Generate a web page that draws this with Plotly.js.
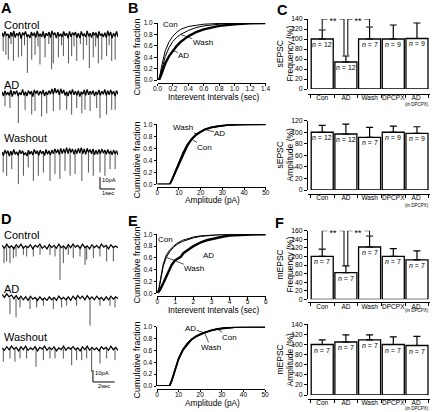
<!DOCTYPE html>
<html><head><meta charset="utf-8">
<script src="https://cdn.plot.ly/plotly-3.0.1.min.js"></script>
<style>html,body{margin:0;padding:0;background:#fff}#fig{width:432px;height:412px}</style>
</head><body><div id="fig"></div>
<script>
// ================= DATA =================
// Panel A: sEPSC traces — baseline noise (pA) and events (time s, amplitude pA)
const aCtrlNoise=[1.5,-2,2.5,-1,0.5,-3,2,-1.5,3,-2.5,1,-1,2,-3.5,1.5,-0.5,2.5,-2,0,-3,2,-1,1.5,-2.5,3,-1.5,0.5,-2,2.5,-3,1,-1,2,-2.5,3,-0.5,1.5,-3,2,-1.5,0.5,-2,2.5,-1,1,-3,2.5,-2,1.5,-0.5,2,-2.5,1,-3,2.5,-1,0.5,-2,3,-1.5,1,-2.5,2,-0.5,1.5,-3,2.5,-1,0.5,-2,1.5,-2.5,3,-1,2,-3,1,-1.5,2.5,-2];
const aCtrlEvtT=[0.08,0.26,0.42,0.6,0.76,1.09,1.31,1.5,1.69,1.98,2.2,2.4,2.53,2.87,3.12,3.31,3.42,3.76,3.96,4.09,4.43,4.64,4.8,4.98,5.22,5.42,5.64,5.82,6.08,6.24,6.42,6.65,6.97,7.14,7.31,7.54];
const aCtrlEvtAmp=[14,17,21,8,22,19,18,9,32,21,17,10,25,19,8,29,24,19,9,18,24,18,10,22,8,21,9,28,19,10,24,21,18,9,22,21];
const aADNoise=[1,-2.5,2,-1.5,0.5,-2,2.5,-3,1.5,-1,2,-2.5,0.5,-1.5,3,-2,1,-2.5,2,-1,1.5,-3,2.5,-0.5,2,-2,1.5,-1,2.5,-2.5,1,-1.5,2,-1,3.5,-1,4,0,3,-1.5,3.5,-0.5,2.5,-2,1,-2.5,2,-1,3,-1.5,1.5,-2,2,-3,1,-1,2.5,-2,3,-1.5,1.5,-1,2,-2.5,1,-1.5,2.5,-2,1.5,-1,3,-2,2,-1.5,2.5,-1,1.5,-2.5,2,-1];
const aADEvtT=[0.2,0.53,1.09,1.54,1.98,2.2,2.64,2.98,3.42,3.86,4.31,4.64,4.98,5.32,5.53,5.87,6.31,6.53,6.97,7.31,7.54];
const aADEvtAmp=[11,12.5,25,14,18,15,19.5,17,15,14,14,18,12.5,17,14,15,12.5,21,18,14,14];
const aWashNoise=[0.5,-2.5,2,-1,1.5,-3,1,-2,2.5,-1.5,0.5,-2.5,2,-1,1.5,-2,0,-3,2,-1.5,1,-2,2.5,-1,1.5,-2.5,2,-1,1,-2.5,2.5,-1.5,1.5,-2,2,-1,3,-0.5,2.5,-1.5,3.5,-1,3,-0.5,4,-1,3.5,0,3,-1.5,2.5,-1,3.5,-0.5,4,-1,3,-1.5,3.5,0,2.5,-1,3,-2,2,-1.5,2.5,-1,3,-0.5,2,-1.5,2.5,-1,1.5,-2,2,-1,1.5,-2];
const aWashEvtT=[0.08,0.31,0.65,1.09,1.43,1.75,2.09,2.42,2.76,3.2,3.53,3.86,4.2,4.54,4.87,5.32,5.76,6.08,6.53,6.86,7.2,7.54];
const aWashEvtAmp=[16.7,19.4,13.9,26.4,19.4,12.5,23.6,19.4,16.7,23.6,18,22,15.3,19.4,18,23.6,16.7,19.4,16.7,19.4,13.9,13.9];

// Panel D: mEPSC traces
const dCtrlNoise=[1,-1.5,2,-1,0.5,-2,1.5,-1,2,-1.5,0.5,-1,1.5,-2,1,-0.5,2,-1.5,0.5,-2,1.5,-1,1,-1.5,2,-1,0.5,-2,1.5,-1,2,-0.5,1,-1.5,2,-1,0.5,-2,1.5,-1,1,-1.5,2,-0.5,1,-2,1.5,-1,0.5,-1];
const dCtrlEvtT=[0.19,0.43,0.74,1.05,1.3,1.98,2.28,2.9,3.52,4.44,4.91,5.37,5.68,6.14,6.6,7.22,7.69,7.84,8.46,9.07,9.69,10.31];
const dCtrlEvtAmp=[13.9,12.5,13.9,9.7,8.3,7,8.3,8.3,7,7,8.3,27.8,13.9,7,9.7,8.3,15.3,11,9.7,8.3,12.5,12.5];
const dADNoise=[3,0.5,3.5,1,2.5,-0.5,2,-1,1.5,-1.5,1,-2,1.5,-1,0.5,-2,1,-1.5,0,-2,1,-1.5,0.5,-2,1.5,-1,0.5,-1.5,1,-2,1.5,-1,2,-0.5,1.5,-1.5,2,-1,1,-1.5,1.5,-1,0.5,-2,1,-1.5,1.5,-1,1,-0.5];
const dADEvtT=[0.74,1.3,1.67,2.59,3.21,3.83,4.75,5.52,5.99,6.91,8.15,9.07,10.0,10.46];
const dADEvtAmp=[13.3,16.1,7.8,9.2,7.8,6.4,9.2,7.8,6.4,6.4,23,6.4,6.4,7.8];
const dWashNoise=[0.5,-1.5,1.5,-1,2,-0.5,1,-2,1.5,-1,2,-1.5,0.5,-1,1.5,-2,1,-0.5,2,-1.5,1,-1,1.5,-2,0.5,-1,2,-1.5,1,-0.5,1.5,-1,0.5,-2,1.5,-1,2,-1.5,1,-1,0.5,-2,1.5,-0.5,1,-1.5,2,-1,1,-1.5];
const dWashEvtT=[0.12,0.74,1.2,1.67,2.28,3.15,3.83,4.44,4.91,5.68,6.45,6.91,7.38,7.84,8.3,9.07,9.69,10.46];
const dWashEvtAmp=[11,8.3,11,8.3,8.3,15.3,9.7,8.3,8.3,8.3,13.9,9.7,9.7,8.3,19.4,12.5,8.3,9.7];

// Panel B: sEPSC cumulative distributions
const bIntX=[0,0.02,0.05,0.1,0.15,0.2,0.25,0.3,0.4,0.5,0.6,0.8,1.0,1.2,1.4];
const bIntCon=[0,0,0.22,0.51,0.67,0.77,0.84,0.89,0.94,0.965,0.98,0.993,0.998,1,1];
const bIntWash=[0,0,0.16,0.41,0.57,0.68,0.75,0.8,0.87,0.92,0.95,0.98,0.993,1,1];
const bIntAD=[0,0,0.1,0.29,0.42,0.52,0.6,0.67,0.77,0.84,0.89,0.95,0.98,0.995,1];
const bAmpX=[0,5.8,7,8,10,12,14,16,18,20,22,25,28,32,36,40,50];
const bAmpCon=[0,0,0.08,0.16,0.33,0.5,0.64,0.75,0.82,0.87,0.91,0.945,0.967,0.985,0.994,0.998,1];
const bAmpWash=[0,0,0.1,0.19,0.37,0.54,0.67,0.77,0.84,0.885,0.92,0.955,0.975,0.99,0.996,1,1];
const bAmpAD=[0,0,0.09,0.17,0.35,0.52,0.66,0.76,0.83,0.875,0.915,0.95,0.972,0.987,0.995,0.999,1];

// Panel E: mEPSC cumulative distributions
const eIntX=[0,0.1,0.2,0.33,0.5,0.7,0.9,1.1,1.4,1.7,2.0,2.4,2.8,3.3,4,5,6];
const eIntCon=[0,0.1,0.28,0.5,0.65,0.74,0.8,0.85,0.9,0.93,0.955,0.975,0.985,0.993,0.998,1,1];
const eIntWash=[0,0.09,0.25,0.46,0.61,0.71,0.78,0.83,0.88,0.915,0.94,0.965,0.98,0.99,0.997,1,1];
const eIntADX=[0,0.15,0.33,0.5,0.61,0.79,0.98,1.16,1.3,1.44,1.6,1.81,2.0,2.18,2.45,2.73,3.0,3.28,3.6,4.0,4.6,5.2,6];
const eIntAD=[0,0.06,0.17,0.28,0.37,0.48,0.56,0.6,0.62,0.68,0.72,0.76,0.8,0.83,0.87,0.9,0.92,0.94,0.96,0.98,0.99,0.998,1];
const eAmpX=[0,5.8,7,8,10,12,14,16,18,20,22,25,28,32,36,40,50];
const eAmpCon=[0,0,0.1,0.22,0.45,0.6,0.7,0.78,0.83,0.865,0.9,0.935,0.96,0.98,0.993,0.998,1];
const eAmpWash=[0,0,0.12,0.24,0.47,0.62,0.72,0.79,0.84,0.875,0.905,0.94,0.965,0.983,0.994,0.999,1];
const eAmpAD=[0,0,0.11,0.23,0.46,0.61,0.71,0.785,0.84,0.87,0.9,0.94,0.962,0.982,0.993,0.998,1];

// Panels C & F: bar charts (% of control, mean + SEM)
const barCats=['Con','AD','Wash','DPCPX','AD\u00a0'];
const lastCatNote='(in DPCPX)';
const cFreqMean=[100,54,100,100,101];
const cFreqSem=[18,12,24,28,31];
const cFreqN=['12','12','7','9','9'];
const cAmpMean=[100,97,91,100,98];
const cAmpSem=[12,17,17.5,10.7,11.5];
const cAmpN=['12','12','7','9','9'];
const fFreqMean=[100,62,122,100,92];
const fFreqSem=[17,16,25.6,18,21];
const fFreqN=['7','7','7','7','7'];
const fAmpMean=[100,105,109,100,98];
const fAmpSem=[9,14,10,15,18];
const fAmpN=['7','7','7','7','7'];
const sigPairs=[[0,1],[1,2]];
const sigLabel='**';

// ================= LAYOUT HELPERS =================
const W=432,H=412;
const fx=p=>p/W, fy=p=>1-p/H;
const FONT='Liberation Sans, Arial, Helvetica, sans-serif';
const data=[];
const layout={width:W,height:H,margin:{l:0,r:0,t:0,b:0},paper_bgcolor:'#fff',plot_bgcolor:'rgba(0,0,0,0)',
  showlegend:false,font:{family:FONT,color:'#000',size:7},annotations:[],shapes:[]};
const axStyle={showline:true,linecolor:'#000',linewidth:1,ticks:'outside',ticklen:2.5,tickwidth:1,tickcolor:'#000',
  showgrid:false,zeroline:false,fixedrange:true};
function txt(x,y,text,size,opts){layout.annotations.push(Object.assign({xref:'paper',yref:'paper',x:fx(x),y:fy(y),text,showarrow:false,
  font:{size,family:FONT,color:'#000'},xanchor:'center',yanchor:'middle',borderpad:0},opts||{}));}

// ---- traces (A, D)  (axis ids start at 2)
const tracePanels=[
 {id:2,noise:aCtrlNoise,t:aCtrlEvtT,a:aCtrlEvtAmp,base:34.5,tmax:7.73,label:'Control',ly:24.5,w:1.3},
 {id:3,noise:aADNoise,t:aADEvtT,a:aADEvtAmp,base:93,tmax:7.73,label:'AD',ly:85,w:1.3},
 {id:4,noise:aWashNoise,t:aWashEvtT,a:aWashEvtAmp,base:152.5,tmax:7.73,label:'Washout',ly:137.5,w:1.3},
 {id:5,noise:dCtrlNoise,t:dCtrlEvtT,a:dCtrlEvtAmp,base:246.5,tmax:10.74,label:'Control',ly:235,w:1.2},
 {id:6,noise:dADNoise,t:dADEvtT,a:dADEvtAmp,base:298,tmax:10.74,label:'AD',ly:288.5,w:1.2},
 {id:7,noise:dWashNoise,t:dWashEvtT,a:dWashEvtAmp,base:348.5,tmax:10.74,label:'Washout',ly:337,w:1.2}
];
tracePanels.forEach(p=>{
  layout['xaxis'+p.id]={domain:[fx(2),fx(118)],range:[0,p.tmax],visible:false,fixedrange:true,anchor:'y'+p.id};
  layout['yaxis'+p.id]={domain:[fy(p.base+42),fy(p.base-6)],range:[-35,5],visible:false,fixedrange:true,anchor:'x'+p.id};
  const n=p.noise.length;
  const sx=[],sy=[];
  p.t.forEach((t,i)=>{sx.push(t,t,null);sy.push(0,-p.a[i],null);});
  data.push({type:'scatter',mode:'lines',x:sx,y:sy,xaxis:'x'+p.id,yaxis:'y'+p.id,line:{color:'#555',width:1},hoverinfo:'skip',cliponaxis:false});
  data.push({type:'scatter',mode:'lines',x:p.noise.map((_,i)=>i*p.tmax/(n-1)),y:p.noise,xaxis:'x'+p.id,yaxis:'y'+p.id,
    line:{color:'#000',width:p.w},hoverinfo:'skip',cliponaxis:false});
  txt(2.5,p.ly,p.label,11,{xanchor:'left'});
});
// scale bars
const scaleBars=[{id:4,t0:6.53,dur:1,top:-20.4,pA:10,tl:'1sec'},{id:7,t0:8.42,dur:2,top:-17.9,pA:10,tl:'2sec'}];
scaleBars.forEach(s=>{
  const bot=s.top-s.pA;
  data.push({type:'scatter',mode:'lines',x:[s.t0,s.t0,s.t0+s.dur],y:[s.top,bot,bot],xaxis:'x'+s.id,yaxis:'y'+s.id,
    line:{color:'#000',width:1},hoverinfo:'skip',cliponaxis:false});
  layout.annotations.push({xref:'x'+s.id,yref:'y'+s.id,x:s.t0,y:s.top-2.5,text:s.pA+'pA',showarrow:false,xanchor:'left',yanchor:'middle',xshift:1,font:{size:5.8},borderpad:0});
  layout.annotations.push({xref:'x'+s.id,yref:'y'+s.id,x:s.t0+s.dur/2,y:bot,text:s.tl,showarrow:false,xanchor:'center',yanchor:'top',yshift:-0.5,font:{size:5.8},borderpad:0});
});

// ---- cumulative plots (B, E)
function curveAxes(id,xl,xr,yt,yb,xpos,xrange,dtick,fmt){
  layout['xaxis'+id]=Object.assign({},axStyle,{domain:[fx(xl),fx(xr)],range:xrange,anchor:'free',position:fy(xpos),
    tickmode:'linear',tick0:0,dtick,tickformat:fmt,ticklabelstandoff:-3,tickfont:{size:6.5,family:FONT,color:'#000'}});
  layout['yaxis'+id]=Object.assign({},axStyle,{domain:[fy(yb),fy(yt)],range:[0,1.001],anchor:'x'+id,
    tickmode:'linear',tick0:0,dtick:0.2,tickformat:'.1f',tickfont:{size:6.5,family:FONT,color:'#000'}});
}
function curve(id,x,y,w){data.push({type:'scatter',mode:'lines',x,y,xaxis:'x'+id,yaxis:'y'+id,line:{color:'#000',width:w},hoverinfo:'skip',cliponaxis:false});}
function lab(id,x,y,text,ax,ay){layout.annotations.push({xref:'x'+id,yref:'y'+id,x,y,text,ax,ay,showarrow:true,arrowhead:0,arrowwidth:0.7,arrowcolor:'#000',
  standoff:0,startstandoff:0,font:{size:8,family:FONT,color:'#000'},borderpad:0});}

curveAxes(8,157.5,265.5,23,80,82.5,[0,1.4],0.2,'.1f');
curve(8,bIntX,bIntCon,1); curve(8,bIntX,bIntWash,1); curve(8,bIntX,bIntAD,2.4);
txt(170,25,'Con',8); lab(8,bIntX[7],bIntWash[7],'Wash',22,8); lab(8,bIntX[5],bIntAD[5],'AD',11,5);

curveAxes(9,157.2,265.8,124.3,184.3,186.8,[0,50],10,'d');
curve(9,bAmpX,bAmpCon,1.3); curve(9,bAmpX,bAmpWash,1.3); curve(9,bAmpX,bAmpAD,1.8);
lab(9,bAmpX[8],bAmpWash[8],'Wash',-13,-6); lab(9,bAmpX[10],bAmpAD[10],'AD',15,4); lab(9,bAmpX[7],bAmpCon[7],'Con',13,8);

curveAxes(10,157.3,265.7,234.3,293.3,296,[0,6],1,'d');
curve(10,eIntX,eIntCon,1); curve(10,eIntX,eIntWash,1); curve(10,eIntADX,eIntAD,2.4);
txt(165,240,'Con',8); lab(10,eIntADX[13],eIntAD[13],'AD',12,11); lab(10,eIntX[4],eIntWash[4],'Wash',28,11);

curveAxes(11,157,265,326.7,386,388.5,[0,50],10,'d');
curve(11,eAmpX,eAmpCon,1.3); curve(11,eAmpX,eAmpWash,1.3); curve(11,eAmpX,eAmpAD,1.8);
lab(11,eAmpX[10],eAmpAD[10],'AD',-14,-4); lab(11,eAmpX[12],eAmpCon[12],'Con',12,8); lab(11,eAmpX[10],eAmpWash[10],'Wash',6,15);

// axis titles for B/E
[[57,'Cumulative fraction'],[160,'Cumulative fraction'],[265,'Cumulative fraction'],[360,'Cumulative fraction']].forEach(a=>txt(136.5,a[0],a[1],9,{textangle:-90}));
txt(214,97.5,'Interevent Intervals (sec)',8.3); txt(212,200.5,'Amplitude (pA)',8.3);
txt(214,310,'Interevent Intervals (sec)',8.3); txt(212,403,'Amplitude (pA)',8.3);

// ---- bar charts (C, F)
function barAxes(id,yt,yb,xpos,ymax,noteY){
  layout['xaxis'+id]=Object.assign({},axStyle,{domain:[fx(308),fx(430)],type:'category',categoryorder:'array',categoryarray:barCats,
    range:[-0.6,4.55],anchor:'free',position:fy(xpos),tickson:'boundaries',ticklen:3,tickangle:0,ticklabelstandoff:-2,
    tickfont:{size:6.5,family:FONT,color:'#000'}});
  layout['yaxis'+id]=Object.assign({},axStyle,{domain:[fy(yb),fy(yt)],range:[0,ymax+0.01],anchor:'x'+id,tickmode:'linear',tick0:0,dtick:20,
    ticklen:3,tickfont:{size:6.8,family:FONT,color:'#000'}});
  layout.annotations.push({xref:'x'+id,yref:'paper',x:barCats.length-1,y:fy(noteY),text:lastCatNote,showarrow:false,
    xanchor:'center',yanchor:'middle',font:{size:4.5,family:FONT,color:'#000'},borderpad:0});
}
function bars(id,mean,sem,nArr,sigLevel){
  data.push({type:'bar',x:barCats,y:mean,xaxis:'x'+id,yaxis:'y'+id,width:0.93,marker:{color:'#fff',line:{color:'#000',width:1.3}},
    error_y:{type:'data',symmetric:false,array:sem,arrayminus:sem.map(()=>0),color:'#000',thickness:1.2,width:3.5},hoverinfo:'skip'});
  mean.forEach((m,i)=>layout.annotations.push({xref:'x'+id,yref:'y'+id,x:i,y:m,text:'<i>n</i> = '+nArr[i],showarrow:false,
    xanchor:'center',yanchor:'top',yshift:-1,font:{size:7,family:FONT,color:'#000'},borderpad:0}));
  if(sigLevel){
    const shared=sigPairs[0][1];
    sigPairs.forEach(([i,j])=>{
      const x1=i+(i===shared?0.08:0), x2=j-(j===shared?0.08:0);
      const b1=mean[i]+sem[i]+1.5, b2=mean[j]+sem[j]+1.5;
      const ln=(xa,ya,xb,yb)=>layout.shapes.push({type:'line',xref:'x'+id,yref:'y'+id,x0:xa,y0:ya,x1:xb,y1:yb,line:{color:'#000',width:1}});
      ln(x1,b1,x1,sigLevel); ln(x1,sigLevel,x2,sigLevel); ln(x2,sigLevel,x2,b2);
      layout.annotations.push({xref:'x'+id,yref:'y'+id,x:(x1+x2)/2,y:sigLevel,text:sigLabel,showarrow:false,xanchor:'center',yanchor:'middle',
        yshift:-2,bgcolor:'#fff',borderpad:1.5,font:{size:9,family:FONT,color:'#000'}});
    });
  }
}
barAxes(12,19,89,93.5,140,104); bars(12,cFreqMean,cFreqSem,cFreqN,140);
barAxes(13,120.7,190,193.5,120,205); bars(13,cAmpMean,cAmpSem,cAmpN,null);
barAxes(14,230.7,299.3,302,160,310.5); bars(14,fFreqMean,fFreqSem,fFreqN,160);
barAxes(15,324.3,395,398.5,140,408.5); bars(15,fAmpMean,fAmpSem,fAmpN,null);
[[54,'sEPSC','Frequency (%)'],[155,'sEPSC','Amplitude (%)'],[265,'mEPSC','Frequency (%)'],[360,'mEPSC','Amplitude (%)']].forEach(a=>{
  txt(279.5,a[0],a[1],8.5,{textangle:-90}); txt(289.5,a[0],a[2],8.5,{textangle:-90});
});

// ---- panel letters
[['A',0,8],['B',127,8],['C',276,10],['D',0,218.5],['E',127,221],['F',274,223]].forEach(l=>txt(l[1],l[2],'<b>'+l[0]+'</b>',14.5,{xanchor:'left'}));

Plotly.newPlot('fig',data,layout,{displayModeBar:false,staticPlot:true});
</script></body></html>
